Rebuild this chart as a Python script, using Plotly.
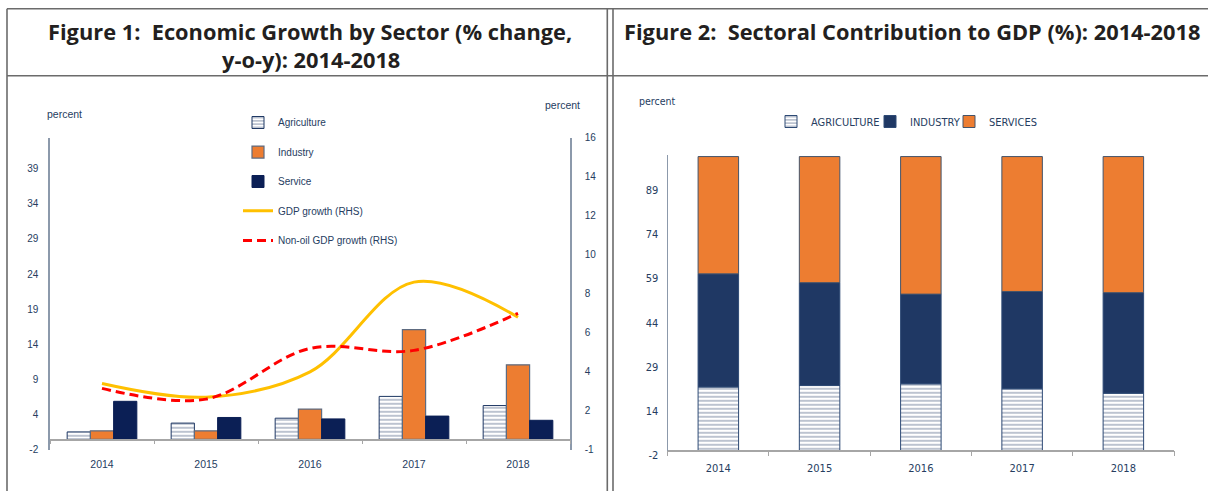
import plotly.graph_objects as go

# ---------------- data ----------------
years = ["2014", "2015", "2016", "2017", "2018"]

# Figure 1: growth by sector (% y-o-y), left axis
agri_growth = [1.05, 2.3, 3.0, 6.1, 4.8]
industry_growth = [1.2, 1.2, 4.3, 15.6, 10.6]
service_growth = [5.4, 3.1, 2.9, 3.3, 2.7]
# right-hand-side series
gdp_growth = [2.9, 2.2, 3.5, 8.1, 6.3]
nonoil_gdp_growth = [2.65, 2.1, 4.7, 4.6, 6.5]

# Figure 2: sectoral contribution to GDP (%)
agri_share = [21.6, 22.1, 22.7, 21.0, 19.5]
industry_share = [38.5, 35.0, 30.5, 33.1, 34.2]
services_share = [39.9, 42.9, 46.8, 45.9, 46.3]

left_tick_labels = ["-2", "4", "9", "14", "19", "24", "29", "34", "39"]
rhs_tick_labels = ["-1", "2", "4", "6", "8", "10", "12", "14", "16"]
share_tick_labels = ["-2", "14", "29", "44", "59", "74", "89"]

# ---------------- helpers (layout geometry in pixels) ----------------
W, H = 1208, 491
Y_OFF, Y_SCALE = 6.2, 0.9735   # vertical calibration of the photographed page


def px(x):
    return x / W


def py(y):
    yy = (y - Y_OFF) / Y_SCALE
    return 1 - yy / H


ORANGE = "#ED7D31"
NAVY1 = "#0B1F55"
NAVY2 = "#1F3864"
TXT = "#263D5F"
AXC = "#8C99AB"
SANS = "Liberation Sans, Arial, sans-serif"
NARROW = "Liberation Sans Narrow, DejaVu Sans Condensed, Liberation Sans, sans-serif"
TITLE_FONT = "Open Sans, Noto Sans, sans-serif"

# axis ranges (Excel-style axis minimum at -1.5 / -0.5)
L_MIN, L_MAX, L_STEP = -1.5, 42.9, 5
R_MIN, R_MAX, R_STEP = -0.5, 15.5, 2
S_MIN, S_MAX, S_STEP = -1.5, 100.6, 15

fig = go.Figure()

# ---- Figure 1 bars ----
fig.add_trace(go.Bar(
    x=years, y=agri_growth, name="Agriculture", legend="legend",
    marker=dict(color="white", line=dict(color=NAVY2, width=1),
                pattern=dict(shape="-", fgcolor=NAVY2, bgcolor="white", size=4, solidity=0.3)),
    xaxis="x", yaxis="y"))
fig.add_trace(go.Bar(
    x=years, y=industry_growth, name="Industry", legend="legend2",
    marker=dict(color=ORANGE, line=dict(color="#5E6B80", width=1.2)),
    xaxis="x", yaxis="y"))
fig.add_trace(go.Bar(
    x=years, y=service_growth, name="Service", legend="legend3",
    marker=dict(color=NAVY1, line=dict(color=NAVY1, width=1)),
    xaxis="x", yaxis="y"))

# ---- Figure 1 lines (RHS) ----
fig.add_trace(go.Scatter(
    x=years, y=gdp_growth, name="GDP growth (RHS)", legend="legend4", mode="lines",
    line=dict(color="#FFC000", width=3, shape="spline", smoothing=1.0),
    xaxis="x", yaxis="y2"))
fig.add_trace(go.Scatter(
    x=years, y=nonoil_gdp_growth, name="Non-oil GDP growth (RHS)", legend="legend5", mode="lines",
    line=dict(color="#FF0000", width=3, dash="9px,5px", shape="spline", smoothing=1.0),
    xaxis="x", yaxis="y2"))

# ---- Figure 2 stacked bars ----
ind_base = agri_share
svc_base = [a + b for a, b in zip(agri_share, industry_share)]
fig.add_trace(go.Bar(
    x=years, y=agri_share, name="AGRICULTURE", legend="legend6",
    offsetgroup="s", width=0.4, offset=-0.2,
    marker=dict(color="white", line=dict(color="#2E4A75", width=1),
                pattern=dict(shape="-", fgcolor=NAVY2, bgcolor="white", size=4, solidity=0.3)),
    xaxis="x2", yaxis="y3"))
fig.add_trace(go.Bar(
    x=years, y=industry_share, base=ind_base, name="INDUSTRY", legend="legend7",
    offsetgroup="s", width=0.4, offset=-0.2,
    marker=dict(color=NAVY2, line=dict(color="#2E4A75", width=1)),
    xaxis="x2", yaxis="y3"))
fig.add_trace(go.Bar(
    x=years, y=services_share, base=svc_base, name="SERVICES", legend="legend8",
    offsetgroup="s", width=0.4, offset=-0.2,
    marker=dict(color=ORANGE, line=dict(color="#44546A", width=1)),
    xaxis="x2", yaxis="y3"))

# ---------------- axes ----------------
layout = dict(
    width=W, height=H,
    margin=dict(l=0, r=0, t=0, b=0),
    paper_bgcolor="white", plot_bgcolor="white",
    barmode="group", bargap=0.33, bargroupgap=0,
    showlegend=True,
    xaxis=dict(domain=[px(50), px(570)], type="category", anchor="free", position=py(439.7),
               showline=True, linecolor="#A6A6A6", linewidth=1.5, showgrid=False,
               ticks="outside", tickson="boundaries", ticklen=4, tickcolor="#A6A6A6",
               ticklabelstandoff=15,
               tickfont=dict(family=SANS, size=10.5, color=TXT)),
    yaxis=dict(domain=[py(450), py(138)], range=[L_MIN, L_MAX],
               tickmode="array",
               tickvals=[L_MIN + L_STEP * i for i in range(len(left_tick_labels))],
               ticktext=left_tick_labels,
               showline=True, linecolor=AXC, linewidth=1.5, showgrid=False, zeroline=False,
               ticks="", ticklabelstandoff=8,
               tickfont=dict(family=SANS, size=10, color=TXT)),
    yaxis2=dict(overlaying="y", side="right", anchor="x", range=[R_MIN, R_MAX],
                tickmode="array",
                tickvals=[R_MIN + R_STEP * i for i in range(len(rhs_tick_labels))],
                ticktext=rhs_tick_labels,
                showline=True, linecolor=AXC, linewidth=1.5, showgrid=False, zeroline=False,
                ticks="", ticklabelstandoff=11,
                tickfont=dict(family=SANS, size=10, color=TXT)),
    xaxis2=dict(domain=[px(667.7), px(1174)], type="category", anchor="free", position=py(450.7),
                showline=True, linecolor="#A6A6A6", linewidth=1.5, showgrid=False,
                ticks="outside", tickson="boundaries", ticklen=5, tickcolor="#A6A6A6",
                ticklabelstandoff=8,
                tickfont=dict(family=NARROW, size=11, color=TXT)),
    yaxis3=dict(domain=[py(455.1), py(155)], anchor="x2", range=[S_MIN, S_MAX],
                tickmode="array",
                tickvals=[S_MIN + S_STEP * i for i in range(len(share_tick_labels))],
                ticktext=share_tick_labels,
                showline=True, linecolor=AXC, linewidth=1.2, showgrid=False, zeroline=False,
                ticks="", ticklabelstandoff=6,
                tickfont=dict(family=NARROW, size=11, color=TXT)),
)

# ---------------- legends (one entry each, placed like the original) ----------------
left_leg_y = [122.7, 152.3, 181.7, 211.0, 240.7]
for i, yy in enumerate(left_leg_y):
    key = "legend" if i == 0 else f"legend{i + 1}"
    layout[key] = dict(x=px(238), y=py(yy), xanchor="left", yanchor="middle",
                       bgcolor="rgba(0,0,0,0)", borderwidth=0, itemwidth=30,
                       font=dict(family=SANS, size=10, color=TXT))
right_leg_x = [771, 870, 949]
for j, xx in enumerate(right_leg_x):
    key = f"legend{j + 6}"
    layout[key] = dict(x=px(xx), y=py(121.7), xanchor="left", yanchor="middle",
                       bgcolor="rgba(0,0,0,0)", borderwidth=0, itemwidth=30,
                       font=dict(family=NARROW, size=11, color=TXT))

fig.update_layout(**layout)

# ---------------- titles and labels ----------------
annos = [
    dict(text="<b>Figure 1:\u00a0 Economic Growth by Sector (% change,</b>", x=px(310), y=py(32)),
    dict(text="<b>y-o-y): 2014-2018</b>", x=px(311), y=py(60)),
    dict(text="<b>Figure 2:\u00a0 Sectoral Contribution to GDP (%): 2014-2018</b>", x=px(912), y=py(32)),
]
for a in annos:
    fig.add_annotation(xref="paper", yref="paper", showarrow=False, xanchor="center", yanchor="middle",
                       font=dict(family=TITLE_FONT, size=21.8, color="#231F20"), **a)

for text, x, y, fam, size in [("percent", 64, 114, SANS, 10.5),
                              ("percent", 562, 105, SANS, 10.5),
                              ("percent", 657, 101, NARROW, 10.5)]:
    fig.add_annotation(xref="paper", yref="paper", showarrow=False, xanchor="center", yanchor="middle",
                       text=text, x=px(x), y=py(y), font=dict(family=fam, size=size, color=TXT))

# ---------------- frame lines ----------------
BORDER = "#6B6B6B"
frame = [
    (7, 9, 1208, 9),      # top
    (7, 76, 1208, 76),    # under titles
    (7, 9, 7, 500),       # left
    (607.3, 9, 607.3, 500),
    (613, 9, 613, 500),
]
for x0, y0, x1, y1 in frame:
    fig.add_shape(type="line", xref="paper", yref="paper",
                  x0=px(x0), y0=py(y0), x1=px(x1), y1=py(y1),
                  line=dict(color=BORDER, width=1.6))

PAGE_CSS = ("var s=document.createElement('style');"
            "s.textContent='html,body{margin:0;padding:0;overflow:hidden;height:491px;"
            "font-size:0;line-height:0}';"
            "document.head.appendChild(s);")

fig.write_html("out.html", config={"displayModeBar": False}, post_script=PAGE_CSS)
